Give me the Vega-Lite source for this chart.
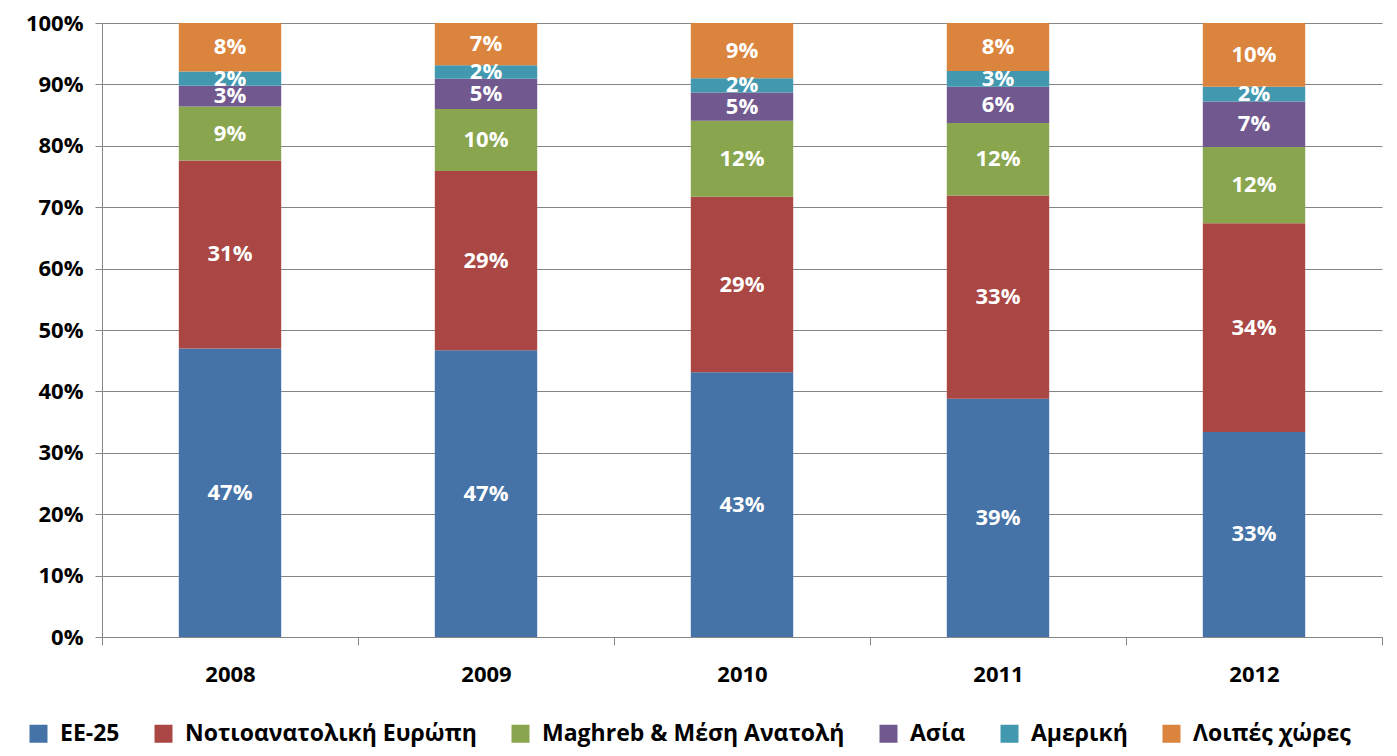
{
  "$schema": "https://vega.github.io/schema/vega-lite/v6.json",
  "width": 1280,
  "height": 614,
  "autosize": {"type": "none"},
  "padding": {"left": 102, "top": 23, "right": 15, "bottom": 119},
  "background": "white",
  "view": {"stroke": null},
  "config": {"font": "Open Sans"},
  "data": {"values": [
    {"year": "2008", "region": "ΕΕ-25", "k": 1, "v": 0.470},
    {"year": "2008", "region": "Νοτιοανατολική Ευρώπη", "k": 2, "v": 0.306},
    {"year": "2008", "region": "Maghreb & Μέση Ανατολή", "k": 3, "v": 0.088},
    {"year": "2008", "region": "Ασία", "k": 4, "v": 0.034},
    {"year": "2008", "region": "Αμερική", "k": 5, "v": 0.023},
    {"year": "2008", "region": "Λοιπές χώρες", "k": 6, "v": 0.079},
    {"year": "2009", "region": "ΕΕ-25", "k": 1, "v": 0.467},
    {"year": "2009", "region": "Νοτιοανατολική Ευρώπη", "k": 2, "v": 0.292},
    {"year": "2009", "region": "Maghreb & Μέση Ανατολή", "k": 3, "v": 0.101},
    {"year": "2009", "region": "Ασία", "k": 4, "v": 0.049},
    {"year": "2009", "region": "Αμερική", "k": 5, "v": 0.022},
    {"year": "2009", "region": "Λοιπές χώρες", "k": 6, "v": 0.069},
    {"year": "2010", "region": "ΕΕ-25", "k": 1, "v": 0.431},
    {"year": "2010", "region": "Νοτιοανατολική Ευρώπη", "k": 2, "v": 0.286},
    {"year": "2010", "region": "Maghreb & Μέση Ανατολή", "k": 3, "v": 0.124},
    {"year": "2010", "region": "Ασία", "k": 4, "v": 0.046},
    {"year": "2010", "region": "Αμερική", "k": 5, "v": 0.023},
    {"year": "2010", "region": "Λοιπές χώρες", "k": 6, "v": 0.090},
    {"year": "2011", "region": "ΕΕ-25", "k": 1, "v": 0.388},
    {"year": "2011", "region": "Νοτιοανατολική Ευρώπη", "k": 2, "v": 0.331},
    {"year": "2011", "region": "Maghreb & Μέση Ανατολή", "k": 3, "v": 0.118},
    {"year": "2011", "region": "Ασία", "k": 4, "v": 0.059},
    {"year": "2011", "region": "Αμερική", "k": 5, "v": 0.026},
    {"year": "2011", "region": "Λοιπές χώρες", "k": 6, "v": 0.078},
    {"year": "2012", "region": "ΕΕ-25", "k": 1, "v": 0.334},
    {"year": "2012", "region": "Νοτιοανατολική Ευρώπη", "k": 2, "v": 0.340},
    {"year": "2012", "region": "Maghreb & Μέση Ανατολή", "k": 3, "v": 0.124},
    {"year": "2012", "region": "Ασία", "k": 4, "v": 0.074},
    {"year": "2012", "region": "Αμερική", "k": 5, "v": 0.024},
    {"year": "2012", "region": "Λοιπές χώρες", "k": 6, "v": 0.104}
  ]},
  "encoding": {
    "x": {
      "field": "year", "type": "nominal", "title": null,
      "scale": {"paddingInner": 0, "paddingOuter": 0},
      "axis": {
        "labelAngle": 0, "labelFontSize": 22, "labelFontWeight": "bold", "labelColor": "black",
        "labelPadding": 19, "domainColor": "#868686", "tickColor": "#868686", "tickSize": 8,
        "tickBand": "extent", "grid": false
      }
    },
    "color": {
      "field": "region", "type": "nominal", "title": null,
      "sort": ["ΕΕ-25", "Νοτιοανατολική Ευρώπη", "Maghreb & Μέση Ανατολή", "Ασία", "Αμερική", "Λοιπές χώρες"],
      "scale": {
        "domain": ["ΕΕ-25", "Νοτιοανατολική Ευρώπη", "Maghreb & Μέση Ανατολή", "Ασία", "Αμερική", "Λοιπές χώρες"],
        "range": ["#4572A7", "#AA4643", "#89A54E", "#71588F", "#4198AF", "#DB843D"]
      },
      "legend": {
        "orient": "none", "legendX": -75, "legendY": 699, "direction": "horizontal", "columns": 6,
        "symbolType": "square", "symbolSize": 324, "symbolStrokeWidth": 0, "symbolOpacity": 1,
        "labelFontSize": 23, "labelFontWeight": "bold", "labelColor": "black",
        "labelOffset": 10, "columnPadding": 32, "labelLimit": 500
      }
    },
    "order": {"field": "k", "type": "quantitative"}
  },
  "layer": [
    {
      "mark": {"type": "bar", "width": {"band": 0.4}},
      "encoding": {
        "y": {
          "field": "v", "type": "quantitative", "stack": "normalize", "title": null,
          "scale": {"domain": [0, 1]},
          "axis": {
            "values": [0, 0.1, 0.2, 0.3, 0.4, 0.5, 0.6, 0.7, 0.8, 0.9, 1],
            "format": ".0%", "labelFontSize": 22, "labelFontWeight": "bold", "labelColor": "black",
            "labelPadding": 12, "tickSize": 7, "tickColor": "#868686", "domainColor": "#868686",
            "grid": true, "gridColor": "#868686", "gridOpacity": 1
          }
        }
      }
    },
    {
      "mark": {"type": "text", "color": "white", "fontSize": 22, "fontWeight": "bold", "baseline": "middle"},
      "encoding": {
        "y": {"field": "v", "type": "quantitative", "stack": "normalize", "bandPosition": 0.5},
        "text": {"field": "v", "type": "quantitative", "format": ".0%"},
        "color": {"value": "white"}
      }
    }
  ]
}
